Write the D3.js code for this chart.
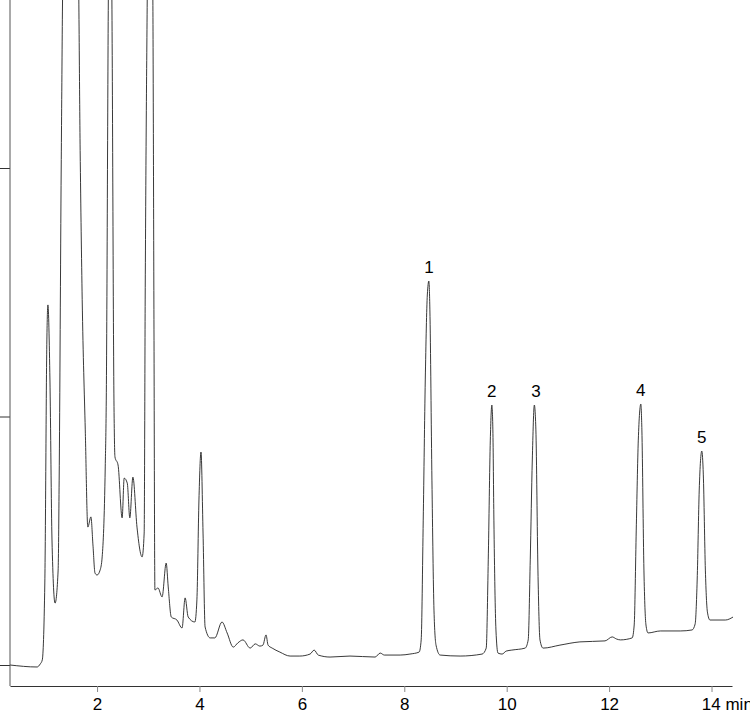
<!DOCTYPE html>
<html><head><meta charset="utf-8">
<script src="https://cdn.jsdelivr.net/npm/d3@7"></script>
<style>body{margin:0;background:#fff}svg{display:block}</style>
</head><body><svg id="c" width="750" height="716"></svg>
<script>
const times=[0.30,0.83,0.89,0.93,0.98,1.02,1.04,1.08,1.12,1.18,1.24,1.26,1.30,1.34,1.47,1.63,1.67,1.71,1.77,1.82,1.88,1.92,1.96,2.00,2.06,2.10,2.16,2.18,2.22,2.25,2.29,2.33,2.35,2.41,2.49,2.53,2.59,2.64,2.70,2.78,2.88,2.92,2.94,2.98,3.04,3.09,3.11,3.13,3.19,3.27,3.35,3.39,3.45,3.56,3.66,3.72,3.78,3.91,3.95,3.99,4.03,4.07,4.11,4.21,4.30,4.44,4.54,4.66,4.75,4.85,4.99,5.09,5.18,5.24,5.30,5.34,5.42,5.57,5.77,5.96,6.16,6.24,6.32,6.55,6.94,7.43,7.53,7.61,7.92,8.11,8.29,8.33,8.37,8.41,8.45,8.48,8.50,8.54,8.58,8.62,8.70,9.09,9.52,9.60,9.64,9.68,9.71,9.73,9.75,9.79,9.83,9.91,9.99,10.10,10.36,10.42,10.46,10.50,10.54,10.57,10.61,10.65,10.71,11.04,11.43,11.92,12.06,12.14,12.22,12.45,12.49,12.53,12.57,12.62,12.64,12.68,12.72,12.76,13.00,13.39,13.62,13.68,13.72,13.76,13.81,13.84,13.88,13.92,13.97,14.27,14.42];
const signal=[0,-0.8,0.4,2.0,33.0,130.8,144.9,114.7,50.3,24.9,38.2,74.4,200,290,350,290,207,147,94.6,55.5,59.6,48.3,37.0,36.2,38.2,43.5,79.7,106.6,267.6,350,267.6,106.6,83.7,80.5,59.2,75.2,73.2,59.2,75.6,55.5,43.5,53.1,146.9,267.6,350,267.6,146.9,30.2,31.0,27.4,41.0,31.4,19.3,18.1,14.9,27.0,19.3,17.3,26.2,66.4,85.7,53.1,15.3,10.9,10.9,17.3,12.9,7.2,8.9,10.1,6.8,8.5,7.6,8.0,12.1,8.0,6.8,5.2,3.6,3.6,4.4,6.0,4.0,3.2,3.6,3.2,4.8,4.0,4.0,4.4,5.2,10.1,58.3,114.7,148.9,154.5,142.9,74.4,22.1,8.0,4.0,3.6,4.4,6.8,42.3,90.5,104.6,94.6,58.3,14.1,4.8,4.4,5.6,6.0,6.8,10.1,42.3,82.5,104.6,94.6,38.2,10.1,6.8,8.0,9.3,9.7,11.3,10.5,10.1,10.9,16.1,54.3,90.5,105.0,94.6,38.2,16.1,12.9,13.7,13.7,14.1,16.5,34.2,70.4,86.1,76.5,38.2,21.3,18.1,18.1,19.3];
const peakLabels=["1","2","3","4","5"];
const peakTimes=[8.48,9.71,10.57,12.62,13.81];
const peakValues=[154.5,104.6,104.6,105.0,86.1];
const xTicks=[2,4,6,8,10,12,14];
const yTicks=[0,100,200];

const svg=d3.select("#c");
const x=d3.scaleLinear().domain([0.3,14.4]).range([10,732]);
const y=d3.scaleLinear().domain([0,200]).range([665,168]);
svg.append("defs").append("clipPath").attr("id","clip").append("rect").attr("x",10).attr("y",0).attr("width",740).attr("height",686);
const data=times.map((t,i)=>[t,signal[i]]);
svg.append("path").datum(data).attr("clip-path","url(#clip)")
  .attr("fill","none").attr("stroke","#222").attr("stroke-width",0.9)
  .attr("d",d3.line().x(d=>x(d[0])).y(d=>y(d[1])).curve(d3.curveMonotoneX));

const xa=svg.append("g").attr("transform","translate(0,686)")
  .call(d3.axisBottom(x).tickValues(xTicks).tickSize(6).tickSizeOuter(0).tickFormat(d=>d===14?"14 min":d));
xa.select(".domain").attr("stroke","#333");
xa.selectAll(".tick line").attr("stroke","#888");
xa.selectAll("text").attr("font-family","Liberation Sans, Arial").attr("font-size",17).attr("fill","#000").attr("dy","0.9em");
xa.selectAll(".tick text").filter(d=>d===14).attr("text-anchor","start").attr("dx","-0.6em");

const ya=svg.append("g").attr("transform","translate(10,0)")
  .call(d3.axisLeft(y).tickValues(yTicks).tickSize(10).tickFormat(""));
ya.select(".domain").remove();
ya.selectAll(".tick line").attr("stroke","#333");
svg.append("line").attr("x1",10).attr("x2",10).attr("y1",0).attr("y2",686).attr("stroke","#555");

svg.selectAll(".pl").data(peakLabels).enter().append("text")
  .attr("x",(d,i)=>x(peakTimes[i])).attr("y",(d,i)=>y(peakValues[i])-8)
  .attr("text-anchor","middle").attr("font-family","Liberation Sans, Arial").attr("font-size",17).text(d=>d);
</script></body></html>
